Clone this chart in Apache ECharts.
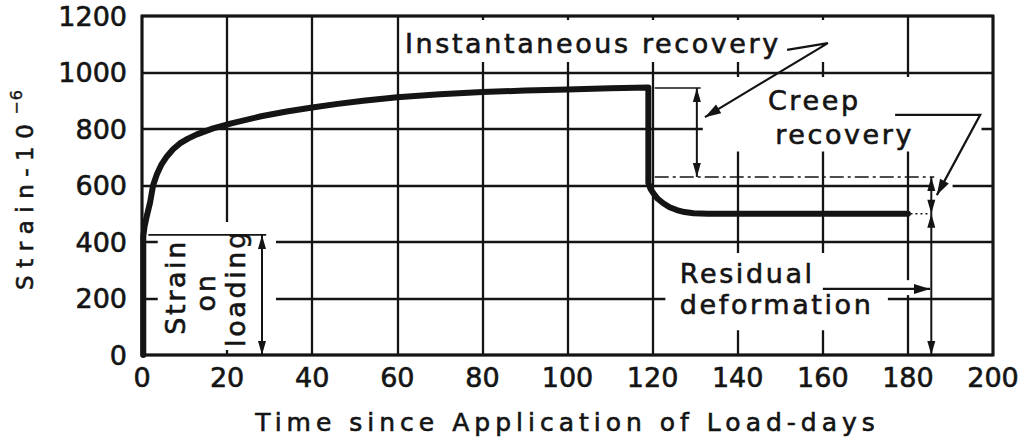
<!DOCTYPE html>
<html>
<head>
<meta charset="utf-8">
<script src="https://cdn.jsdelivr.net/npm/echarts@6/dist/echarts.min.js"></script>
<style>
  html, body { margin: 0; padding: 0; background: #fff; }
  #chart { width: 1035px; height: 443px; }
</style>
</head>
<body>
<div id="chart"></div>
<script>
// Creep curve: time since load application (days) vs strain (x10^-6)
const days = [0.3, 0.3, 0.6, 1.1, 1.9, 2.6, 3.5, 4.6, 5.8, 7.3, 8.9, 10.8, 12.9, 16.7, 21, 28, 34, 40, 46, 52, 60, 70, 80, 90, 100, 110, 119,
              119, 119.5, 120.2, 121.2, 122.5, 124, 125.7, 127.5, 129.6, 133, 180];
const strain = [0, 420, 455, 490, 540, 600, 640, 675, 702, 728, 749, 766, 781, 802, 820, 845, 862, 876, 889, 900, 912, 923, 931, 936, 940, 944, 947,
                610, 588, 572, 553, 537, 523, 513, 506, 502, 500, 500];

// Key strain levels used by the dimension lines
const loadStrain = 425;      // strain on loading
const unloadTop = 945;       // strain just before unloading
const afterUnload = 630;     // strain after instantaneous recovery
const residual = 500;        // residual deformation

const xTitle = 'Time since Application of Load-days';
const yTitleMain = 'Strain-10';
const yTitleExp = '\u22126';
const noteTexts = ['Instantaneous recovery', 'Creep', 'recovery', 'Residual', 'deformation', 'Strain', 'on', 'loading'];

const INK = '#141414';
const FONT = '"DejaVu Sans", sans-serif';
const NOTE_FONT = '27px ' + FONT;
const Y_FONT = '23px ' + FONT;
const EXP_FONT = '16px ' + FONT;
const HEAVY = 0.6;   // slight stroke so the lettering reads as heavy as pen lettering

// extra tracking for the stencil-style lettering (applied to SVG text)
const TRACKING = {};
const Y_TRACK = 7.5;
TRACKING[xTitle] = 5;
TRACKING[yTitleMain] = Y_TRACK;
TRACKING[yTitleExp] = 1;
noteTexts.forEach(t => { TRACKING[t] = 2.6; });

const measureCtx = document.createElement('canvas').getContext('2d');
function trackedWidth(str, font, track) {
  measureCtx.font = font;
  return measureCtx.measureText(str).width + str.length * track;
}

function arrowHead(tip, from, len, half) {
  const dx = tip[0] - from[0], dy = tip[1] - from[1];
  const L = Math.hypot(dx, dy) || 1;
  const ux = dx / L, uy = dy / L;
  const bx = tip[0] - ux * len, by = tip[1] - uy * len;
  return {
    type: 'polygon',
    shape: { points: [tip, [bx - uy * half, by + ux * half], [bx + uy * half, by - ux * half]] },
    style: { fill: INK }
  };
}

function buildNotes(api) {
  const P = (d, s) => api.coord([d, s]);
  const out = [];

  // white lettering panels that interrupt the grid
  const panels = [
    [61, 1037, 163, 1186],
    [131.8, 720, 197.3, 984],
    [123, 88, 175.3, 361],
    [178.8, 212, 181.2, 265],
    [3.7, 18, 31.5, 471],
    [185.8, 585, 190.5, 615]
  ];
  panels.forEach(b => {
    const a = P(b[0], b[3]), c = P(b[2], b[1]);
    out.push({ type: 'rect', shape: { x: a[0], y: a[1], width: c[0] - a[0], height: c[1] - a[1] }, style: { fill: '#fff' } });
  });

  const line = (pts, w, dash) => {
    out.push({
      type: 'polyline',
      shape: { points: pts.map(p => P(p[0], p[1])) },
      style: { stroke: INK, lineWidth: w, fill: null, lineDash: dash || null }
    });
  };
  const arrowLine = (pts) => {
    line(pts, 2.2);
    const n = pts.length;
    out.push(arrowHead(P(pts[n - 1][0], pts[n - 1][1]), P(pts[n - 2][0], pts[n - 2][1]), 16, 5));
  };
  const dim = (d, s0, s1) => {
    line([[d, s0], [d, s1]], 2);
    const a = P(d, s0), b = P(d, s1);
    out.push(arrowHead(a, b, 14, 4));
    out.push(arrowHead(b, a, 14, 4));
  };

  // strain on loading
  line([[1.5, loadStrain], [29.2, loadStrain]], 1.8);
  dim(28.2, 0, loadStrain);

  // instantaneous recovery
  line([[120.5, unloadTop], [131.3, unloadTop]], 1.6);
  line([[120.5, afterUnload], [186.2, afterUnload]], 1.6, [14, 4, 3, 4]);
  dim(130.4, afterUnload, unloadTop);

  // creep recovery and residual deformation
  line([[180.6, residual], [185.5, residual]], 1.6, [2, 3]);
  dim(185.5, residual, afterUnload);
  dim(185.5, 0, residual);

  // leaders
  arrowLine([[151.6, 1080], [161.2, 1104], [132.3, 842]]);
  arrowLine([[177, 850], [197, 850], [186.8, 566]]);
  arrowLine([[160, 234], [185.2, 234]]);

  const textAt = (str, p, align, rot, font, heavy) => {
    out.push({
      type: 'text', x: p[0], y: p[1], rotation: rot || 0,
      style: {
        text: str, font: font || NOTE_FONT, fill: INK,
        stroke: INK, lineWidth: heavy == null ? HEAVY : heavy,
        align: align, textAlign: align,
        verticalAlign: 'middle', textVerticalAlign: 'middle'
      }
    });
  };
  const text = (str, d, s, align, rot) => textAt(str, P(d, s), align, rot);

  text('Instantaneous recovery', 61.8, 1104, 'left');
  text('Creep', 147.1, 900, 'left');
  text('recovery', 148.8, 782, 'left');
  text('Residual', 126.4, 287, 'left');
  text('deformation', 126.4, 177, 'left');
  text('Strain', 7.8, 241, 'center', Math.PI / 2);
  text('on', 15.0, 223, 'center', Math.PI / 2);
  text('loading', 21.9, 237, 'center', Math.PI / 2);

  // vertical axis title with raised exponent, centred on the plot height
  const bottom = P(0, 0), top = P(0, 1200);
  const mainLen = trackedWidth(yTitleMain, Y_FONT, Y_TRACK);
  const expLen = trackedWidth(yTitleExp, EXP_FONT, 1);
  const midY = (bottom[1] + top[1]) / 2 + 4;
  const startY = midY + (mainLen + expLen + 2) / 2;
  const titleX = bottom[0] - 117;
  textAt(yTitleMain, [titleX, startY], 'left', Math.PI / 2, Y_FONT);
  textAt(yTitleExp, [titleX - 9, startY - mainLen - 2], 'left', Math.PI / 2, EXP_FONT, 0.4);

  return out;
}

const labelStyle = { fontFamily: FONT, fontSize: 27, color: INK, textBorderColor: INK, textBorderWidth: HEAVY };

const chart = echarts.init(document.getElementById('chart'), null, { renderer: 'svg' });

chart.setOption({
  animation: false,
  backgroundColor: '#fff',
  grid: {
    left: 142, right: 42, top: 16, bottom: 88,
    show: true, borderColor: INK, borderWidth: 3, backgroundColor: 'transparent'
  },
  xAxis: {
    type: 'value', min: 0, max: 200, interval: 20,
    name: xTitle, nameLocation: 'middle', nameGap: 55,
    nameTextStyle: { fontFamily: FONT, fontSize: 25, color: INK, textBorderColor: INK, textBorderWidth: HEAVY },
    axisLine: { show: false }, axisTick: { show: false },
    axisLabel: Object.assign({ margin: 9, formatter: v => String(v) }, labelStyle),
    splitLine: { show: true, lineStyle: { color: INK, width: 2.3 } }
  },
  yAxis: {
    type: 'value', min: 0, max: 1200, interval: 200,
    axisLine: { show: false }, axisTick: { show: false },
    axisLabel: Object.assign({ margin: 15, formatter: v => String(v) }, labelStyle),
    splitLine: { show: true, lineStyle: { color: INK, width: 2.3 } }
  },
  series: [
    {
      type: 'custom',
      z: 1,
      silent: true,
      clip: false,
      data: [[0, 0]],
      renderItem: (params, api) => ({ type: 'group', children: buildNotes(api) })
    },
    {
      type: 'line',
      z: 3,
      silent: true,
      showSymbol: false,
      data: days.map((d, i) => [d, strain[i]]),
      lineStyle: { color: INK, width: 6, cap: 'round', join: 'round' }
    }
  ]
});

function applyTracking() {
  document.querySelectorAll('#chart svg text').forEach(t => {
    const s = TRACKING[t.textContent];
    if (s != null) t.style.letterSpacing = s + 'px';
  });
}
applyTracking();
chart.on('finished', applyTracking);
</script>
</body>
</html>
